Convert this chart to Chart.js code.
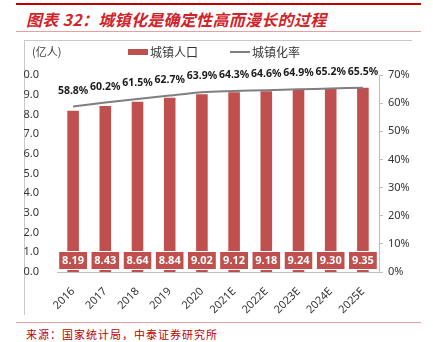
<!DOCTYPE html>
<html>
<head>
<meta charset="utf-8">
<script src="https://cdn.jsdelivr.net/npm/chart.js@4/dist/chart.umd.min.js"></script>
<style>
  body { margin: 0; background: #fff; width: 433px; height: 342px; position: relative; overflow: hidden; }
  .rule-top { position: absolute; left: 16px; top: 3px; width: 405px; height: 2px; background: #c00000; }
  .rule-thin { position: absolute; left: 16px; width: 405px; height: 1px; background: #e8a0a0; }
  .title { position: absolute; left: 26px; top: 7px; font: italic bold 16px "Noto Sans CJK SC", sans-serif; color: #d2232a; white-space: nowrap; letter-spacing: 0.3px; }
  .frame { position: absolute; left: 24px; top: 40px; width: 387px; height: 274px; border-top: 1px solid #c8c8c8; border-left: 1px solid #c8c8c8; }
  .source { position: absolute; left: 26px; top: 326px; font: 11px "Noto Sans CJK SC", sans-serif; color: #c00000; letter-spacing: 1px; white-space: nowrap; }
  #wrap { position: absolute; left: 24px; top: 40px; width: 387px; height: 278px; }
</style>
</head>
<body>
<div class="rule-top"></div>
<div class="title">图表 32：城镇化是确定性高而漫长的过程</div>
<div class="rule-thin" style="top:31px"></div>
<div class="frame"></div>
<div id="wrap"><canvas id="chart" width="387" height="278"></canvas></div>
<div class="rule-thin" style="top:322px"></div>
<div class="source">来源：国家统计局，中泰证券研究所</div>

<script>
var years = ["2016", "2017", "2018", "2019", "2020", "2021E", "2022E", "2023E", "2024E", "2025E"];
var urbanPop = [8.19, 8.43, 8.64, 8.84, 9.02, 9.12, 9.18, 9.24, 9.30, 9.35];
var urbanRate = [58.8, 60.2, 61.5, 62.7, 63.9, 64.3, 64.6, 64.9, 65.2, 65.5];

var barRed = '#c0504d';
var lineGray = '#7f7f7f';
var tickFont = { family: "'Noto Sans', 'Noto Sans CJK SC', sans-serif", size: 11 };

// legend, unit and the value tags on bars / above the line
var labelPlugin = {
    id: 'labels',
    afterDatasetsDraw: function (chart) {
        var ctx = chart.ctx;
        ctx.save();

        ctx.font = "11px 'Noto Sans CJK SC', sans-serif";
        ctx.fillStyle = '#404040';
        ctx.textBaseline = 'middle';
        ctx.textAlign = 'left';
        ctx.fillText('(亿人)', 8, 12);

        ctx.font = "12px 'Noto Sans CJK SC', sans-serif";
        ctx.fillStyle = barRed;
        ctx.fillRect(104, 9, 20, 6);
        ctx.fillStyle = '#333';
        ctx.fillText('城镇人口', 126, 12);
        ctx.strokeStyle = lineGray;
        ctx.lineWidth = 2;
        ctx.beginPath();
        ctx.moveTo(206, 12);
        ctx.lineTo(226, 12);
        ctx.stroke();
        ctx.fillText('城镇化率', 228, 12);

        var y = chart.scales.y;
        var bars = chart.getDatasetMeta(0).data;
        ctx.font = "bold 11px 'Open Sans', sans-serif";
        ctx.textAlign = 'center';
        bars.forEach(function (bar, i) {
            var cy = y.getPixelForValue(0) - 12;
            ctx.fillStyle = barRed;
            ctx.fillRect(bar.x - 14, cy - 8, 28, 17);
            ctx.strokeStyle = '#fff';
            ctx.lineWidth = 1;
            ctx.strokeRect(bar.x - 14.5, cy - 8.5, 29, 18);
            ctx.fillStyle = '#fff';
            ctx.fillText(urbanPop[i].toFixed(2), bar.x, cy + 1);
        });

        var pts = chart.getDatasetMeta(1).data;
        ctx.font = "bold 10.5px 'Noto Sans', sans-serif";
        ctx.fillStyle = '#1a1a1a';
        pts.forEach(function (p, i) {
            ctx.fillText(urbanRate[i].toFixed(1) + '%', p.x, p.y - 16);
        });
        ctx.restore();
    }
};

new Chart(document.getElementById('chart'), {
    type: 'bar',
    data: {
        labels: years,
        datasets: [{
            label: '城镇人口',
            data: urbanPop,
            backgroundColor: barRed,
            barPercentage: 0.36,
            categoryPercentage: 1,
            yAxisID: 'y',
            order: 2
        }, {
            type: 'line',
            label: '城镇化率',
            data: urbanRate,
            borderColor: lineGray,
            borderWidth: 2,
            pointRadius: 0,
            tension: 0.3,
            yAxisID: 'y1',
            order: 1
        }]
    },
    options: {
        responsive: false,
        animation: false,
        layout: { padding: { top: 35, left: 0, right: 0, bottom: 0 } },
        plugins: {
            legend: { display: false },
            tooltip: { enabled: false }
        },
        scales: {
            x: {
                grid: { display: false },
                border: { color: '#bfbfbf' },
                ticks: { color: '#333', font: tickFont, minRotation: 45, maxRotation: 45, padding: 5 },
                afterFit: function (s) { s.height = 46; }
            },
            y: {
                position: 'left',
                min: 0, max: 10,
                grid: { display: false },
                border: { display: false },
                ticks: {
                    stepSize: 1, color: '#333', font: tickFont, padding: 10,
                    callback: function (v) { return v.toFixed(1); }
                },
                afterFit: function (s) { s.width = 33; }
            },
            y1: {
                position: 'right',
                min: 0, max: 70,
                grid: { drawOnChartArea: false, color: '#bfbfbf', tickLength: 4 },
                border: { color: '#bfbfbf' },
                ticks: {
                    stepSize: 10, color: '#333', font: tickFont, padding: 5,
                    callback: function (v) { return v + '%'; }
                },
                afterFit: function (s) { s.width = 32; }
            }
        }
    },
    plugins: [labelPlugin]
});
</script>
</body>
</html>
